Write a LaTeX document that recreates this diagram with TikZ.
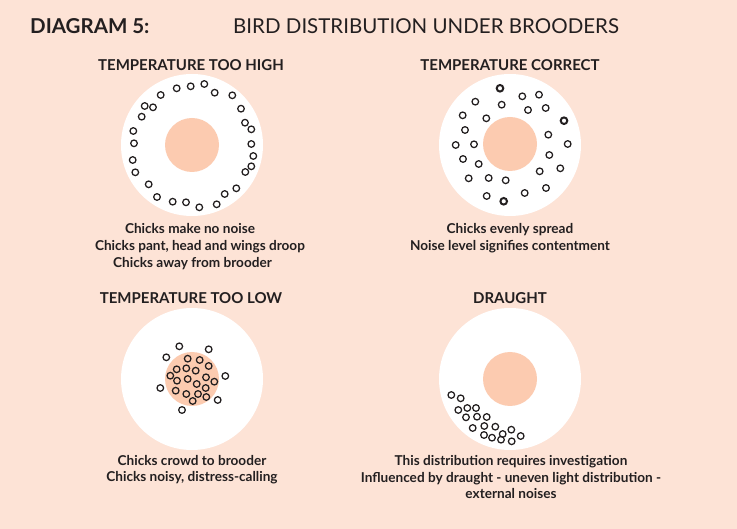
\documentclass[tikz,border=0pt]{standalone}
\usepackage{fontspec}
\setmainfont{Lato}
\definecolor{bg}{HTML}{FDE3D6}
\definecolor{brood}{HTML}{FCCBB0}
\definecolor{ink}{HTML}{231F20}
\begin{document}
\begin{tikzpicture}[x=1pt,y=-1pt,
  chick/.style={draw=ink, line width=1.25pt},
  boldchick/.style={draw=ink, line width=2pt},
  arena/.style={fill=white},
  brooder/.style={fill=brood},
  heading/.style={font=\fontsize{15}{17}\selectfont\bfseries, text=ink, inner sep=0pt, anchor=base},
  caption/.style={font=\fontsize{13.6}{17}\selectfont\bfseries, text=ink, inner sep=0pt, anchor=base}]
\fill[bg] (0,0) rectangle (737,529);
\useasboundingbox (0,0) rectangle (737,529);

% title
\node[font=\fontsize{20.5}{24}\selectfont\bfseries, text=ink, inner sep=0pt, anchor=base west] (dtitle) at (30,33.3) {DIAGRAM 5:};
\node[font=\fontsize{20.5}{24}\selectfont, text=ink, inner sep=0pt, anchor=base west] (btitle) at (233,33.3) {BIRD DISTRIBUTION UNDER BROODERS};

% headings
\node[heading] (h1) at (191,70.3) {TEMPERATURE TOO HIGH};
\node[heading] (h2) at (510,70.3) {TEMPERATURE CORRECT};
\node[heading] (h3) at (191,303.3) {TEMPERATURE TOO LOW};
\node[heading] (h4) at (510,303.3) {DRAUGHT};

% arenas
\fill[arena] (192,145) circle (71pt);
\fill[brooder] (192,145) circle (27pt);
\fill[arena] (510,145) circle (71pt);
\fill[brooder] (510,144) circle (27pt);
\fill[arena] (192,379) circle (71pt);
\fill[brooder] (192,379) circle (27pt);
\fill[arena] (510,379) circle (71pt);
\fill[brooder] (510,379) circle (27pt);

% too high
\foreach \x/\y in {176.7/88.3,190.7/86.3,204.3/84,214.7/92.7,232.3/95.3,241/108.7,245/122.7,251.3/129.3,251.3/144,253.3/156,251.3/166.3,245.3/172,236.3/188.3,224.7/194,216.7/204.3,199.3/207.3,186/202.3,172.7/201.7,157/197,148.7/184.3,135.3/172.3,132.7/160,134/143.3,133.3/131,141.7/116.7,144.7/106,153/107.3,160.7/95}
  \draw[chick] (\x,\y) circle (3.3pt);

% correct
\foreach \x/\y in {522.3/96.3,539/94.7,475.3/101.7,501.7/104.7,528/110,545.7/108,462.7/115.3,486.3/118.3,465/130,548.3/134.7,455.7/145,474/144.3,567.7/144,549.3/155,463/159,478.7/164,560.3/168.3,539.7/171.3,468.7/178.3,488.7/178,505.7/180.3,546/188,486.7/196,524.7/193}
  \draw[chick] (\x,\y) circle (3.3pt);
\foreach \x/\y in {500/88.3,564/120.7,503.7/201.3}
  \draw[boldchick] (\x,\y) circle (3.3pt);

% too low
\foreach \x/\y in {179.3/346.3,208.7/349.3,166.3/357.3,187.7/358.7,199.7/360,208.7/366,176.7/369.3,186.3/368.3,195.7/370.7,170.3/375.7,177/380.7,187.7/379,206/377.3,214.3/381.7,225.3/376,196.7/384,160.3/388,175.7/390.7,205.7/388,186.3/394,198/394,206.3/397,192.7/401,217.7/400,182/410}
  \draw[chick] (\x,\y) circle (3.3pt);

% draught
\foreach \x/\y in {451.3/395,460.7/398.3,458.3/410,467.3/408,476/408,466/417.3,477/416.7,486.7/417,472.7/428,484.3/426,495.3/426.7,511.3/429.7,484/435,492/437.7,502.7/434,501/439.7,511.7/441.3,520.7/436}
  \draw[chick] (\x,\y) circle (3.3pt);

% captions
\node[caption] (c1a) at (190,234) {Chicks make no noise};
\node[caption] (c1b) at (200,251) {Chicks pant, head and wings droop};
\node[caption] (c1c) at (192.5,267.5) {Chicks away from brooder};
\node[caption] (c2a) at (510,234) {Chicks evenly spread};
\node[caption] (c2b) at (510,251) {Noise level signifies contentment};
\node[caption] (c3a) at (192,465) {Chicks crowd to brooder};
\node[caption] (c3b) at (192,482) {Chicks noisy, distress-calling};
\node[caption] (c4a) at (511,465) {This distribution requires investigation};
\node[caption] (c4b) at (511,482.5) {Influenced by draught - uneven light distribution -};
\node[caption] (c4c) at (511,498.5) {external noises};
\end{tikzpicture}
\end{document}
